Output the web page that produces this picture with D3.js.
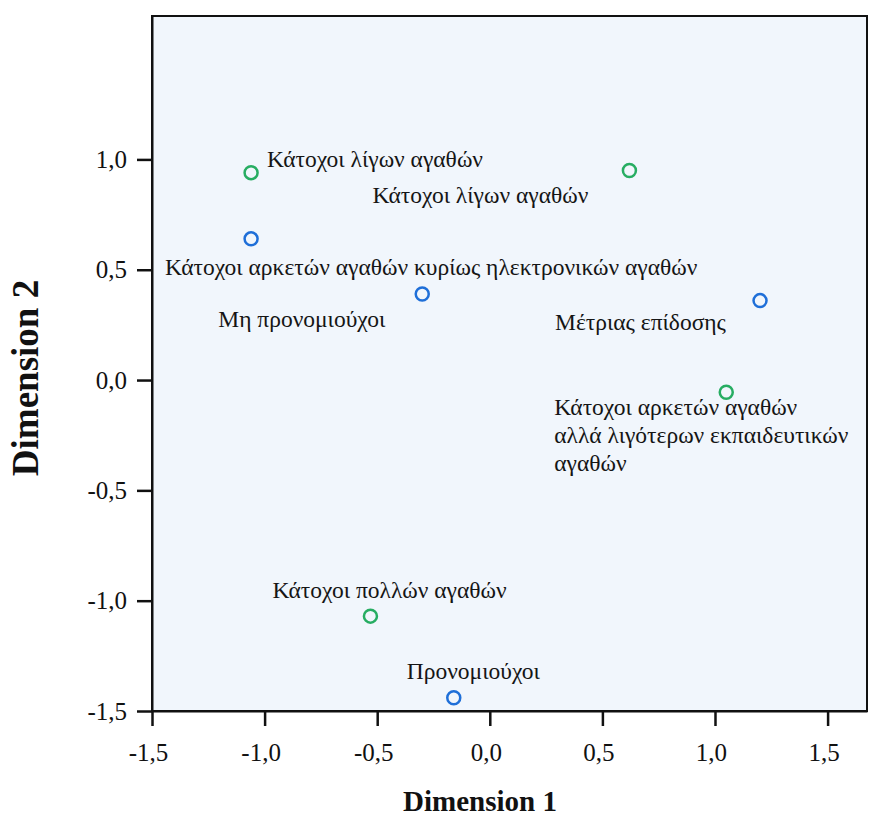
<!DOCTYPE html>
<html>
<head>
<meta charset="utf-8">
<script src="https://cdn.jsdelivr.net/npm/d3@7"></script>
<style>
  body { margin: 0; background: #fff; }
  text { font-family: "Liberation Serif", "Times New Roman", serif; }
</style>
</head>
<body>
<svg width="872" height="818"></svg>
<script>
// row points (blue)
var blueNames = [
  "Κάτοχοι αρκετών αγαθών κυρίως ηλεκτρονικών αγαθών",
  "Μη προνομιούχοι",
  "Μέτριας επίδοσης",
  "Προνομιούχοι"
];
var blueX = [-1.06, -0.30, 1.20, -0.16];
var blueY = [0.64, 0.39, 0.36, -1.44];

// column points (green)
var greenNames = [
  "Κάτοχοι λίγων αγαθών",
  "Κάτοχοι λίγων αγαθών",
  "Κάτοχοι αρκετών αγαθών\nαλλά λιγότερων εκπαιδευτικών\nαγαθών",
  "Κάτοχοι πολλών αγαθών"
];
var greenX = [-1.06, 0.62, 1.05, -0.53];
var greenY = [0.94, 0.95, -0.055, -1.07];

var xTicks = [-1.5, -1.0, -0.5, 0.0, 0.5, 1.0, 1.5];
var yTicks = [-1.5, -1.0, -0.5, 0.0, 0.5, 1.0];

// label placement relative to the point (px)
var blueLabelOff = [[-86, 36], [-204, 33], [-205, 29], [-47, -19]];
var greenLabelOff = [[16, -6], [-257, 33], [-172, 23], [-98, -18]];

var svg = d3.select("svg"),
    margin = {top: 16, right: 5, bottom: 107, left: 152},
    width = +svg.attr("width") - margin.left - margin.right,
    height = +svg.attr("height") - margin.top - margin.bottom,
    g = svg.append("g").attr("transform", "translate(" + margin.left + "," + margin.top + ")");

var x = d3.scaleLinear().domain([-1.5, 1.675]).range([0, width]);
var y = d3.scaleLinear().domain([-1.5, 1.65]).range([height, 0]);

var fmt = d3.formatLocale({decimal: ",", thousands: ".", grouping: [3], currency: ["", "€"], minus: "-"}).format(".1f");

g.append("rect")
    .attr("width", width)
    .attr("height", height)
    .attr("fill", "#f1f6fc")
    .attr("stroke", "#111")
    .attr("stroke-width", 2);

var xAxis = g.append("g")
    .attr("transform", "translate(0," + height + ")")
    .call(d3.axisBottom(x).tickValues(xTicks).tickFormat(fmt).tickSize(15).tickSizeOuter(0));

var yAxis = g.append("g")
    .call(d3.axisLeft(y).tickValues(yTicks).tickFormat(fmt).tickSize(15).tickSizeOuter(0));

[xAxis, yAxis].forEach(function(a) {
  a.select(".domain").attr("stroke", "#111").attr("stroke-width", 2);
  a.selectAll(".tick line").attr("stroke", "#111").attr("stroke-width", 2.5);
  a.selectAll(".tick text")
      .attr("fill", "#111")
      .attr("font-size", 25)
      .attr("font-family", "Liberation Serif, Times New Roman, serif");
});

xAxis.selectAll(".tick text").attr("y", 32).attr("dy", "0.71em").attr("dx", -4);
yAxis.selectAll(".tick text").attr("x", -25).attr("dy", "0.32em");

function drawSeries(names, xs, ys, offs, color) {
  var pts = names.map(function(n, i) { return {name: n, x: xs[i], y: ys[i], off: offs[i]}; });

  g.append("g").selectAll("circle")
    .data(pts)
    .enter().append("circle")
      .attr("cx", function(d) { return x(d.x); })
      .attr("cy", function(d) { return y(d.y); })
      .attr("r", 6.5)
      .attr("fill", "none")
      .attr("stroke", color)
      .attr("stroke-width", 2.5);

  var lab = g.append("g").selectAll("text")
    .data(pts)
    .enter().append("text")
      .attr("x", function(d) { return x(d.x) + d.off[0]; })
      .attr("y", function(d) { return y(d.y) + d.off[1]; })
      .attr("font-size", 23.5)
      .attr("fill", "#151515");

  lab.selectAll("tspan")
    .data(function(d) {
      return d.name.split("\n").map(function(t) { return {t: t, x: x(d.x) + d.off[0]}; });
    })
    .enter().append("tspan")
      .attr("x", function(d) { return d.x; })
      .attr("dy", function(d, i) { return i ? 28 : 0; })
      .text(function(d) { return d.t; });
}

drawSeries(blueNames, blueX, blueY, blueLabelOff, "#1f6fd8");
drawSeries(greenNames, greenX, greenY, greenLabelOff, "#27ad62");

svg.append("text")
    .attr("x", 480)
    .attr("y", 811)
    .attr("text-anchor", "middle")
    .attr("font-size", 29)
    .attr("font-weight", "bold")
    .attr("fill", "#111")
    .text("Dimension 1");

svg.append("text")
    .attr("transform", "translate(38,378) rotate(-90)")
    .attr("text-anchor", "middle")
    .attr("font-size", 37)
    .attr("font-weight", "bold")
    .attr("fill", "#111")
    .text("Dimension 2");
</script>
</body>
</html>
